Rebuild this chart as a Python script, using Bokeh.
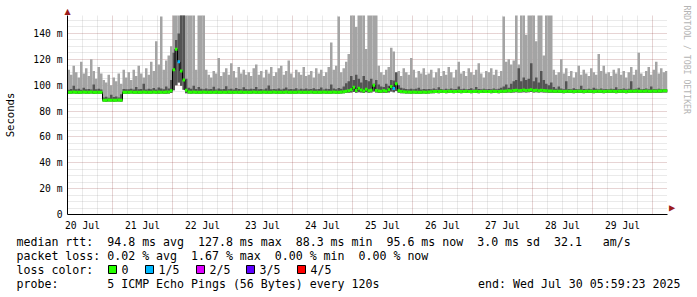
from bokeh.plotting import figure
from bokeh.layouts import column
from bokeh.models import ColumnDataSource, FixedTicker, Grid, Title
from bokeh.core.properties import value
from bokeh.embed import file_html
from bokeh.resources import INLINE

# ---------------- data (hourly bins, hour 0 = Jul 20 06:00) ----------------
day_labels = ["20 Jul", "21 Jul", "22 Jul", "23 Jul", "24 Jul",
              "25 Jul", "26 Jul", "27 Jul", "28 Jul", "29 Jul"]
y_ticks = [0, 20, 40, 60, 80, 100, 120, 140]
y_tick_labels = ["0", "20 m", "40 m", "60 m", "80 m", "100 m", "120 m", "140 m"]

# outer smoke top (slowest of 5 pings), ms
smoke_max = [
    112, 108, 115, 110, 106, 118, 109, 113, 107, 120, 111, 105, 114, 109, 104, 102, 108, 100, 106, 103, 109, 101, 112, 106,
    110, 104, 112, 107, 115, 109, 106, 113, 108, 118, 111, 134, 116, 153, 112, 119, 123, 130, 200, 200, 200, 200, 200, 200,
    200, 200, 200, 112, 200, 200, 200, 112, 108, 106, 111, 109, 121, 107, 110, 113, 108, 117, 111, 106, 114, 109, 112, 108,
    110, 107, 113, 116, 108, 111, 106, 112, 109, 114, 107, 110, 113, 115, 108, 111, 119, 109, 106, 112, 110, 108, 114, 107,
    108, 111, 106, 113, 109, 112, 107, 110, 114, 133, 112, 115, 153, 110, 113, 118, 124, 200, 200, 145, 200, 200, 200, 128,
    200, 200, 200, 200, 115, 110, 108, 112, 114, 129, 126, 109, 111, 107, 113, 110, 108, 121, 112, 106, 111, 109, 113, 108,
    109, 112, 106, 110, 113, 107, 111, 108, 114, 110, 106, 112, 118, 109, 111, 107, 113, 110, 108, 112, 117, 109, 106, 111,
    110, 113, 108, 112, 107, 111, 153, 118, 120, 116, 119, 200, 116, 200, 200, 139, 200, 200, 200, 134, 200, 200, 123, 200,
    200, 200, 112, 108, 110, 120, 109, 113, 107, 111, 106, 110, 115, 108, 112, 109, 107, 113, 110, 108, 124, 111, 115, 109,
    110, 107, 112, 109, 113, 108, 111, 106, 110, 114, 108, 112, 125, 109, 107, 111, 114, 108, 112, 118, 109, 113, 110, 111,
]
# inner smoke top (4th of 5 pings), ms
smoke_inner = [
    96.5, 97.0, 99.5, 96.8, 97.2, 96.5, 98.0, 96.9, 97.1, 96.6, 100.5, 96.8, 97.3, 96.7, 90.5, 91.0, 90.2, 92.5, 90.8, 91.2, 90.4, 93.0, 97.0, 96.8,
    96.9, 97.3, 96.6, 98.5, 96.8, 97.0, 101.0, 96.7, 97.2, 96.9, 97.8, 96.6, 98.2, 97.4, 96.8, 99.0, 97.5, 104.0, 125.0, 135.0, 140.0, 200.0, 200.0, 105.0,
    98.0, 97.2, 99.5, 97.0, 98.5, 97.3, 96.8, 97.5, 96.9, 97.1, 98.8, 96.7, 97.4, 96.8, 97.0, 99.2, 96.9, 97.3, 96.6, 97.8, 97.0, 96.8, 98.4, 97.1,
    96.8, 97.2, 97.0, 98.6, 96.9, 97.1, 96.7, 97.4, 99.8, 96.8, 97.1, 96.9, 97.5, 96.6, 97.3, 98.1, 96.9, 97.0, 96.8, 97.6, 96.7, 97.2, 96.9, 97.4,
    96.9, 97.1, 97.6, 96.8, 97.0, 98.2, 96.7, 97.3, 97.0, 100.5, 97.4, 96.9, 97.8, 97.2, 99.0, 101.5, 103.0, 107.0, 104.0, 108.0, 105.0, 102.0, 107.0, 104.0,
    103.0, 105.0, 101.0, 104.0, 100.5, 99.0, 98.5, 101.0, 99.5, 104.0, 103.5, 110.0, 100.0, 98.0, 97.5, 97.0, 96.8, 97.3, 96.9, 97.2, 98.0, 96.7, 97.1, 96.9,
    97.0, 96.8, 97.4, 96.9, 98.3, 97.1, 96.7, 97.2, 96.9, 97.5, 96.8, 97.0, 99.0, 96.9, 97.3, 96.8, 97.1, 97.6, 96.7, 98.5, 97.0, 96.9, 97.2, 96.8,
    97.1, 96.9, 97.5, 96.8, 97.2, 98.0, 99.0, 100.5, 98.0, 101.0, 103.0, 104.0, 113.0, 103.0, 106.0, 104.0, 105.0, 117.0, 103.0, 106.0, 102.0, 111.0, 104.0, 101.0,
    100.0, 102.0, 98.5, 97.2, 99.0, 97.4, 96.9, 103.0, 97.0, 96.8, 97.6, 97.1, 96.9, 99.5, 97.0, 96.8, 97.3, 96.9, 98.0, 97.2, 96.8, 97.4, 96.9, 97.1,
    96.9, 97.3, 97.0, 98.4, 96.8, 97.1, 97.5, 96.9, 97.2, 103.0, 96.8, 97.3, 98.0, 96.9, 97.1, 97.4, 96.8, 99.0, 97.0, 96.9, 97.3, 96.8, 97.1, 97.0,
]
# smoke bottom (fastest ping), ms
smoke_min = [
    93.4, 93.3, 93.5, 93.4, 93.2, 93.4, 93.5, 93.3, 93.4, 93.5, 93.2, 93.4, 93.3, 93.4, 87.3, 87.2, 87.4, 87.3, 87.1, 87.3, 87.4, 87.2, 93.3, 93.4,
    93.4, 93.5, 93.3, 93.4, 93.2, 93.4, 93.5, 93.4, 93.3, 93.4, 93.5, 93.3, 93.4, 93.5, 93.3, 93.4, 93.6, 94.0, 96.0, 100.0, 102.0, 99.5, 96.5, 93.8,
    93.6, 93.4, 93.5, 93.3, 93.4, 93.3, 93.5, 93.4, 93.3, 93.4, 93.5, 93.4, 93.3, 93.4, 93.5, 93.3, 93.4, 93.4, 93.3, 93.5, 93.4, 93.3, 93.4, 93.5,
    93.4, 93.3, 93.5, 93.4, 93.4, 93.3, 93.5, 93.4, 93.3, 93.4, 93.5, 93.4, 93.3, 93.4, 93.4, 93.5, 93.3, 93.4, 93.4, 93.3, 93.5, 93.4, 93.3, 93.4,
    93.4, 93.5, 93.3, 93.4, 93.4, 93.3, 93.5, 93.4, 93.4, 93.3, 93.5, 93.4, 93.4, 93.6, 93.7, 93.9, 94.1, 94.4, 94.8, 94.2, 94.6, 94.3, 94.0, 94.5,
    94.2, 94.4, 95.0, 94.3, 94.0, 93.9, 94.2, 93.9, 94.4, 95.0, 94.6, 95.5, 94.1, 93.8, 93.7, 93.6, 93.5, 93.4, 93.5, 93.4, 93.3, 93.4, 93.5, 93.4,
    93.6, 93.7, 93.8, 93.9, 93.8, 94.0, 93.9, 93.8, 94.0, 93.9, 93.8, 93.9, 94.0, 93.8, 93.9, 94.0, 93.9, 93.8, 93.9, 94.0, 93.8, 93.9, 94.0, 93.9,
    93.9, 93.8, 94.0, 93.9, 93.8, 94.0, 94.1, 94.2, 94.3, 94.2, 94.4, 94.5, 94.3, 94.4, 94.6, 94.4, 94.5, 94.7, 94.4, 94.6, 94.3, 94.5, 94.4, 94.3,
    94.2, 94.1, 94.0, 93.9, 94.0, 93.9, 93.8, 93.9, 94.0, 93.9, 93.8, 93.9, 94.0, 93.9, 93.8, 93.9, 94.0, 93.9, 93.8, 93.9, 94.0, 93.9, 93.8, 93.9,
    93.9, 94.0, 93.9, 93.8, 93.9, 94.0, 93.9, 93.8, 93.9, 94.0, 93.9, 94.1, 94.0, 93.9, 94.0, 94.1, 94.0, 93.9, 94.1, 94.0, 94.2, 94.1, 94.3, 94.3,
]
# median rtt, ms
median_rtt = [
    94.6, 94.5, 94.7, 94.6, 94.5, 94.6, 94.8, 94.5, 94.6, 94.7, 94.5, 94.6, 94.6, 94.5, 88.4, 88.3, 88.5, 88.4, 88.3, 88.4, 88.5, 88.4, 94.6, 94.5,
    94.6, 94.7, 94.5, 94.6, 94.5, 94.6, 94.7, 94.6, 94.5, 94.6, 94.8, 94.6, 94.7, 94.6, 94.5, 94.7, 94.8, 95.6, 112.0, 127.8, 118.0, 111.0, 104.0, 96.0,
    94.8, 94.6, 94.7, 94.6, 94.5, 94.6, 94.7, 94.6, 94.5, 94.6, 94.6, 94.7, 94.5, 94.6, 94.6, 94.5, 94.7, 94.6, 94.5, 94.6, 94.6, 94.7, 94.5, 94.6,
    94.6, 94.5, 94.7, 94.6, 94.6, 94.5, 94.7, 94.6, 94.5, 94.6, 94.7, 94.6, 94.5, 94.6, 94.6, 94.7, 94.5, 94.6, 94.6, 94.5, 94.7, 94.6, 94.5, 94.6,
    94.6, 94.7, 94.5, 94.6, 94.6, 94.5, 94.7, 94.6, 94.6, 94.5, 94.7, 94.6, 94.6, 94.8, 94.9, 95.2, 95.6, 96.5, 98.3, 95.8, 97.7, 96.2, 95.5, 96.8,
    95.6, 96.0, 100.0, 95.9, 95.4, 95.2, 95.8, 95.3, 96.5, 99.0, 97.5, 101.0, 95.6, 95.1, 94.9, 94.8, 94.7, 94.6, 94.7, 94.6, 94.5, 94.6, 94.7, 94.6,
    94.8, 94.9, 95.0, 95.1, 95.0, 95.2, 95.1, 95.0, 95.2, 95.1, 95.0, 95.1, 95.2, 95.0, 95.1, 95.2, 95.1, 95.0, 95.1, 95.2, 95.0, 95.1, 95.2, 95.1,
    95.1, 95.0, 95.2, 95.1, 95.0, 95.2, 95.3, 95.4, 95.6, 95.5, 95.8, 96.0, 95.7, 95.9, 96.2, 95.8, 96.0, 96.4, 95.9, 96.1, 95.7, 96.0, 95.8, 95.6,
    95.5, 95.4, 95.3, 95.2, 95.3, 95.2, 95.1, 95.2, 95.3, 95.2, 95.1, 95.2, 95.3, 95.2, 95.1, 95.2, 95.3, 95.2, 95.1, 95.2, 95.3, 95.2, 95.1, 95.2,
    95.2, 95.3, 95.2, 95.1, 95.2, 95.3, 95.2, 95.1, 95.2, 95.3, 95.2, 95.4, 95.3, 95.2, 95.3, 95.4, 95.3, 95.2, 95.4, 95.3, 95.5, 95.4, 95.6, 95.6,
]
loss_event_hours = [44, 130]
loss_event_fifths = [1, 1]

loss_labels = ["0", "1/5", "2/5", "3/5", "4/5"]
loss_colors = ["#26ff00", "#00b8ff", "#dd00ff", "#5e00ff", "#ff0000"]

legend_rtt = "median rtt:  94.8 ms avg  127.8 ms max  88.3 ms min  95.6 ms now  3.0 ms sd  32.1   am/s"
legend_loss = "packet loss: 0.02 % avg  1.67 % max  0.00 % min  0.00 % now"
legend_color = "loss color:"
legend_probe = "probe:       5 ICMP Echo Pings (56 Bytes) every 120s"
legend_end = "end: Wed Jul 30 05:59:23 2025"
watermark = "RRDTOOL / TOBI OETIKER"

N = len(median_rtt)
for arr in (smoke_max, smoke_inner, smoke_min):
    assert len(arr) == N, len(arr)

# ---------------- layout ----------------
W = 697
L, R, T, B = 67, 30, 15, 18
FW, FH = W - L - R, 200               # 600 x 200 frame
H_MAIN = T + FH + B                   # 233
H_LEG = 297 - H_MAIN                  # 64
Y_TOP = FH / 1.3                      # 1.3 px per ms
MONO = "DejaVu Sans Mono"
ARROW = "#9b1c1c"


def nb(s):
    return s.replace(" ", "\u00a0")


loss_by_hour = [0] * N
for h, f in zip(loss_event_hours, loss_event_fifths):
    loss_by_hour[h] = f

hours = list(range(N))
src = ColumnDataSource(dict(
    left=hours, right=[h + 1 for h in hours],
    lo=smoke_min, hi=smoke_max, inner=smoke_inner, med=median_rtt,
    col=[loss_colors[f] for f in loss_by_hour],
))

p = figure(width=W, height=H_MAIN, x_range=(0, N), y_range=(0, Y_TOP),
           output_backend="svg", toolbar_location=None,
           min_border_left=L, min_border_right=R, min_border_top=T,
           min_border_bottom=B, background_fill_color="white",
           border_fill_color="white", outline_line_color=None)

p.xgrid.grid_line_color = None
p.ygrid.grid_line_color = None

noon_ticks = [6 + 24 * i for i in range(len(day_labels))]
midnights = [18 + 24 * i for i in range(len(day_labels))]
minor_x = [h for h in range(6, N, 6) if h not in midnights]
minor_y = [v for v in range(5, 155, 5) if v not in y_ticks]

for dim, ticks, color, alpha in (
        (0, minor_x, "#8c8c8c", 0.37), (1, minor_y, "#8c8c8c", 0.37),
        (0, midnights, "#821e1e", 0.38), (1, y_ticks[1:], "#821e1e", 0.38)):
    p.add_layout(Grid(dimension=dim, ticker=FixedTicker(ticks=ticks),
                      grid_line_color=color, grid_line_alpha=alpha,
                      grid_line_dash="1 1", grid_line_width=1))

# smoke
p.quad(left="left", right="right", bottom="lo", top="hi", source=src,
       fill_color="#a4a4a4", line_color=None)
p.quad(left="left", right="right", bottom="lo", top="inner", source=src,
       fill_color="#545454", line_color=None)
# median
p.step(x=hours + [N], y=median_rtt + [median_rtt[-1]], mode="after",
       line_color="black", line_width=1)
p.segment(x0="left", x1="right", y0="med", y1="med", source=src,
          line_color="col", line_width=3)

# axes
p.xaxis.ticker = FixedTicker(ticks=noon_ticks)
p.xaxis.major_label_overrides = {t: s for t, s in zip(noon_ticks, day_labels)}
p.yaxis.ticker = FixedTicker(ticks=y_ticks)
p.yaxis.major_label_overrides = {t: s for t, s in zip(y_ticks, y_tick_labels)}
for ax in (p.xaxis, p.yaxis):
    ax.axis_line_color = "black"
    ax.axis_line_width = 1
    ax.major_tick_line_color = None
    ax.minor_tick_line_color = None
    ax.major_tick_out = 0
    ax.major_tick_in = 0
    ax.minor_tick_out = 0
    ax.minor_tick_in = 0
    ax.major_label_text_font = MONO
    ax.major_label_text_font_size = "9.7px"
    ax.major_label_text_color = "black"
p.xaxis.major_label_standoff = 5
p.yaxis.major_label_standoff = 5
p.yaxis.axis_label = "Seconds"
p.yaxis.axis_label_text_font = MONO
p.yaxis.axis_label_text_font_size = "10.6px"
p.yaxis.axis_label_text_font_style = "normal"
p.yaxis.axis_label_text_color = "black"
p.yaxis.axis_label_standoff = 14

# arrow heads and watermark as side titles
p.add_layout(Title(text="\u25b2", align="left", offset=-3, standoff=0,
                   text_font="DejaVu Sans", text_font_size="8px",
                   text_color=ARROW, text_font_style="normal"), "above")
p.add_layout(Title(text="\u25b2", align="right", offset=3, standoff=0,
                   text_font="DejaVu Sans", text_font_size="8px",
                   text_color=ARROW, text_font_style="normal"), "right")
p.add_layout(Title(text=nb(watermark), align="left", offset=-10, standoff=6,
                   text_font=MONO, text_font_size="8.2px",
                   text_color="#b4b4b4", text_font_style="normal"), "right")

# ---------------- legend strip ----------------
leg = figure(width=W, height=H_LEG, x_range=(0, W), y_range=(H_LEG, 0),
             output_backend="svg", toolbar_location=None,
             x_axis_location=None, y_axis_location=None,
             min_border=0, outline_line_color=None,
             background_fill_color="white", border_fill_color="white")
leg.grid.visible = False
p.frame_align = False
leg.frame_align = False

LEG = value("11.6px")
line_y = [241 - H_MAIN, 255 - H_MAIN, 269 - H_MAIN, 283 - H_MAIN]
leg.text(x=[16, 16, 16, 16], y=line_y,
         text=[nb(legend_rtt), nb(legend_loss), nb(legend_color), nb(legend_probe)],
         text_font=value(MONO), text_font_size=LEG, text_color="black",
         text_align="left", text_baseline="middle")
leg.text(x=[680], y=[line_y[3]], text=[nb(legend_end)],
         text_font=value(MONO), text_font_size=LEG, text_color="black",
         text_align="right", text_baseline="middle")

box_x = [108, 145, 196, 246, 297]
leg.quad(left=box_x, right=[b + 8 for b in box_x],
         top=[line_y[2] - 4] * 5, bottom=[line_y[2] + 4] * 5,
         fill_color=loss_colors, line_color="black", line_width=1)
leg.text(x=[b + 13 for b in box_x], y=[line_y[2]] * 5, text=loss_labels,
         text_font=value(MONO), text_font_size=LEG, text_color="black",
         text_align="left", text_baseline="middle")

open("out.html", "w").write(file_html(column(p, leg, spacing=0), INLINE))
